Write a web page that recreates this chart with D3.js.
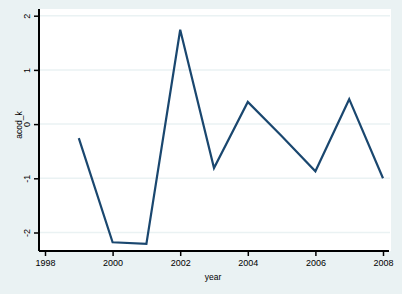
<!DOCTYPE html>
<html>
<head>
<meta charset="utf-8">
<script src="https://cdn.jsdelivr.net/npm/d3@7"></script>
<style>
  body { margin: 0; background: #eaf2f3; }
  text { font-family: "Liberation Sans", Arial, sans-serif; fill: #000; }
</style>
</head>
<body>
<svg id="chart" width="402" height="294"></svg>
<script>
// values
const years = [1999, 2000, 2001, 2002, 2003, 2004, 2005, 2006, 2007, 2008];
const acodK = [-0.26, -2.18, -2.21, 1.74, -0.81, 0.41, -0.22, -0.87, 0.46, -1.0];
const xTicks = [1998, 2000, 2002, 2004, 2006, 2008];
const yTicks = [-2, -1, 0, 1, 2];

let data = years.map((y, i) => ({year: y, value: acodK[i]}));

let svg = d3.select('#chart');
let plot = {left: 39, right: 391, top: 9, bottom: 251};

svg.append('rect')
    .attr('width', 402).attr('height', 294)
    .attr('fill', '#eaf2f3');

svg.append('rect')
    .attr('x', plot.left).attr('y', plot.top)
    .attr('width', plot.right - plot.left)
    .attr('height', plot.bottom - plot.top)
    .attr('fill', '#fff');

let xScale = d3.scaleLinear().domain([1998, 2008]).range([45, 383]);
let yScale = d3.scaleLinear().domain([-2, 2]).range([232.5, 15.7]);

// grid lines
svg.append('g')
    .selectAll('line')
    .data(yTicks)
    .enter().append('line')
    .attr('x1', plot.left).attr('x2', plot.right - 1)
    .attr('y1', d => yScale(d)).attr('y2', d => yScale(d))
    .attr('stroke', '#eaf2f3')
    .attr('stroke-width', 1.5);

// line
let line = d3.line()
    .x(d => xScale(d.year))
    .y(d => yScale(d.value));

svg.append('path')
    .datum(data)
    .attr('d', line)
    .attr('fill', 'none')
    .attr('stroke', '#1a476f')
    .attr('stroke-width', 2.2)
    .attr('stroke-linejoin', 'miter');

// y axis, plain hyphen minus like the original
let yAxis = d3.axisLeft(yScale).tickValues(yTicks).tickSize(5).tickFormat(d => String(d));
let gy = svg.append('g')
    .attr('transform', `translate(${plot.left},0)`)
    .call(yAxis);
gy.select('.domain').attr('d', `M0,${plot.top}V${plot.bottom}`).attr('stroke-width', 2);
gy.selectAll('.tick line').attr('stroke-width', 1.5);
gy.selectAll('.tick text')
    .attr('x', 0).attr('y', 0)
    .attr('dy', 0)
    .attr('transform', 'translate(-9,0) rotate(-90)')
    .style('text-anchor', 'middle')
    .style('font-size', '9px')
    .attr('fill', '#000');

// x axis
let xAxis = d3.axisBottom(xScale).tickValues(xTicks).tickSize(5).tickFormat(d => String(d));
let gx = svg.append('g')
    .attr('transform', `translate(0,${plot.bottom})`)
    .call(xAxis);
gx.select('.domain').attr('d', `M${plot.left},0H${plot.right - 2}`).attr('stroke-width', 2);
gx.selectAll('.tick line').attr('stroke-width', 1.5);
gx.selectAll('.tick text')
    .attr('y', 9)
    .style('font-size', '9px')
    .attr('fill', '#000');

// axis titles
svg.append('text')
    .attr('transform', `translate(22,125) rotate(-90)`)
    .style('text-anchor', 'middle')
    .style('font-size', '8.5px')
    .text('acod_k');

svg.append('text')
    .attr('x', 213).attr('y', 280)
    .style('text-anchor', 'middle')
    .style('font-size', '8.5px')
    .text('year');
</script>
</body>
</html>
